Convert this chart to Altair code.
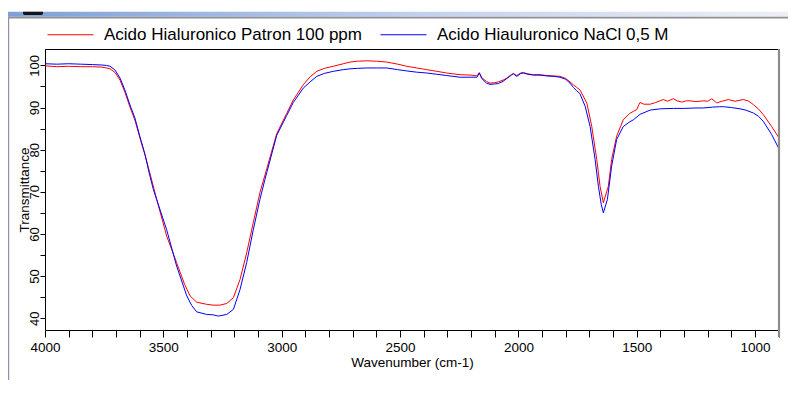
import altair as alt
import pandas as pd

series_names = ["Acido Hialuronico Patron 100 ppm", "Acido Hiauluronico NaCl 0,5 M"]
series_colors = ["#ff0000", "#0000ff"]

red_wn = [4000, 3950, 3900, 3850, 3800, 3760, 3740, 3725, 3704, 3683, 3662, 3641, 3620, 3600,
          3577, 3555, 3528, 3486, 3444, 3410, 3387, 3359, 3317, 3290, 3261, 3232, 3204, 3176,
          3148, 3120, 3092, 3063, 3021, 2979, 2951, 2909, 2880, 2852, 2820, 2782, 2740, 2711,
          2680, 2641, 2600, 2556, 2510, 2472, 2430, 2387, 2345, 2303, 2247, 2200, 2175, 2165,
          2155, 2135, 2120, 2100, 2085, 2065, 2049, 2030, 2021, 2007, 1990, 1979, 1960, 1937,
          1909, 1880, 1850, 1824, 1800, 1782, 1768, 1754, 1740, 1711, 1690, 1669, 1655, 1641,
          1620, 1606, 1585, 1557, 1530, 1514, 1500, 1490, 1486, 1470, 1443, 1420, 1388, 1370,
          1345, 1330, 1310, 1290, 1275, 1250, 1219, 1200, 1183, 1162, 1140, 1113, 1085, 1050,
          1030, 1007, 985, 965, 930, 899]
red_t = [99.9, 99.7, 99.8, 99.7, 99.7, 99.6, 99.4, 99.2, 98.3, 96.5, 93.6, 90.1, 87.0, 83.0,
         78.6, 74.0, 68.2, 59.5, 53.2, 48.0, 45.3, 43.8, 43.3, 43.1, 43.1, 43.5, 44.9, 49.2,
         55.5, 62.7, 69.8, 75.5, 83.8, 88.6, 91.8, 95.4, 97.3, 98.6, 99.3, 99.8, 100.4, 100.8,
         101.0, 101.1, 101.0, 100.8, 100.3, 99.8, 99.4, 99.0, 98.6, 98.2, 97.8, 97.7, 97.5, 98.3,
         97.1, 96.2, 95.8, 95.9, 96.1, 96.5, 97.0, 97.8, 98.1, 97.6, 98.2, 98.3, 98.0, 97.8,
         97.8, 97.6, 97.5, 97.4, 96.9, 96.1, 95.4, 94.8, 94.2, 91.1, 85.5, 77.7, 71.3, 67.4,
         71.3, 77.7, 83.2, 87.1, 88.6, 89.1, 89.5, 90.8, 91.2, 90.8, 90.8, 91.2, 91.9, 91.5,
         92.1, 91.6, 91.3, 91.6, 91.6, 91.4, 91.6, 91.5, 92.1, 91.1, 91.5, 91.9, 91.5, 91.9,
         91.6, 90.7, 89.6, 88.3, 85.5, 82.8]

blue_wn = [4000, 3950, 3900, 3850, 3800, 3760, 3740, 3725, 3704, 3683, 3662, 3641, 3620, 3600,
           3577, 3560, 3542, 3486, 3444, 3401, 3380, 3359, 3317, 3290, 3268, 3232, 3204, 3176,
           3148, 3120, 3092, 3071, 3063, 3021, 2979, 2951, 2909, 2880, 2852, 2820, 2782, 2740,
           2711, 2680, 2641, 2600, 2556, 2510, 2472, 2430, 2387, 2345, 2303, 2247, 2200, 2175,
           2165, 2155, 2135, 2120, 2100, 2085, 2065, 2049, 2030, 2021, 2007, 1990, 1979, 1960,
           1937, 1909, 1880, 1850, 1824, 1800, 1782, 1768, 1754, 1740, 1718, 1697, 1676, 1662,
           1650, 1641, 1624, 1606, 1585, 1557, 1530, 1514, 1486, 1443, 1400, 1345, 1300, 1250,
           1219, 1180, 1150, 1134, 1100, 1064, 1040, 1007, 985, 965, 930, 899]
blue_t = [100.4, 100.3, 100.4, 100.3, 100.2, 100.1, 100.0, 99.8, 98.9, 97.0, 94.1, 90.6, 87.5, 83.3,
          78.8, 74.5, 70.5, 61.0, 52.4, 45.3, 43.0, 41.5, 40.9, 40.8, 40.5, 40.9, 42.1, 46.8,
          53.2, 61.0, 68.2, 72.9, 74.6, 83.4, 88.1, 91.2, 94.6, 96.1, 97.4, 98.1, 98.6, 99.0,
          99.2, 99.3, 99.4, 99.4, 99.4, 99.0, 98.7, 98.4, 98.2, 97.9, 97.6, 97.2, 97.2, 97.2,
          98.2, 96.9, 95.8, 95.5, 95.6, 95.7, 96.2, 96.9, 97.7, 98.0, 97.4, 98.1, 98.2, 97.9,
          97.7, 97.7, 97.5, 97.4, 97.2, 96.7, 95.8, 94.8, 94.0, 93.3, 90.3, 85.5, 77.7, 71.3,
          67.0, 65.0, 68.2, 76.1, 82.4, 85.5, 86.6, 87.1, 88.4, 89.4, 89.7, 89.8, 89.8, 89.9,
          89.9, 90.1, 90.2, 90.2, 90.0, 89.7, 89.4, 88.7, 87.9, 86.7, 83.6, 80.2]

x_tick_values = [4000, 3900, 3800, 3700, 3600, 3500, 3400, 3300, 3200, 3100, 3000, 2900,
                 2800, 2700, 2600, 2500, 2400, 2300, 2200, 2100, 2000, 1900, 1800, 1700,
                 1600, 1500, 1400, 1300, 1200, 1100, 1000, 900]
y_tick_values = [40, 45, 50, 55, 60, 65, 70, 75, 80, 85, 90, 95, 100]

df = pd.concat([
    pd.DataFrame({"wn": red_wn, "t": red_t, "series": series_names[0]}),
    pd.DataFrame({"wn": blue_wn, "t": blue_t, "series": series_names[1]}),
], ignore_index=True)

FONT = "Liberation Sans"
x_scale = alt.Scale(domain=[4000, 899], nice=False, zero=False)
y_scale = alt.Scale(domain=[37.2, 103.9], nice=False, zero=False)

lines = alt.Chart(df).mark_line(strokeWidth=1, clip=True).encode(
    x=alt.X("wn:Q", scale=x_scale, axis=alt.Axis(
        title="Wavenumber (cm-1)", values=x_tick_values, format="d",
        labelExpr="datum.value % 500 == 0 ? datum.label : ''",
        labelFlush=False, tickSize=7, labelPadding=3, titlePadding=2,
        labelFontSize=13.5, titleFontSize=13.5, labelOverlap=False)),
    y=alt.Y("t:Q", scale=y_scale, axis=alt.Axis(
        title="Transmittance", values=y_tick_values,
        labelExpr="datum.value % 10 == 0 ? datum.label : ''",
        labelAngle=270, labelAlign="center", labelBaseline="alphabetic",
        tickSize=5, labelPadding=2, labelFontSize=13, titleFontSize=13.5,
        titleAngle=270, titleAlign="center", titleBaseline="alphabetic",
        titleX=-16.7, titleY=140.5, labelOverlap=False)),
    color=alt.Color("series:N", scale=alt.Scale(domain=series_names, range=series_colors),
                    legend=alt.Legend(title=None, orient="none", legendX=2, legendY=-38,
                                      direction="horizontal", symbolType="stroke",
                                      symbolSize=2116, symbolStrokeWidth=1,
                                      labelFontSize=17, labelFont=FONT, labelOffset=10,
                                      columnPadding=16, labelLimit=500, padding=0,
                                      labelColor="#000000")),
)

dummy = pd.DataFrame({"k": [0]})
bar = alt.Chart(dummy).mark_rect(fill=alt.Gradient(
    gradient="linear", x1=0, x2=1, y1=0, y2=0,
    stops=[alt.GradientStop(color="#7f9fd8", offset=0),
           alt.GradientStop(color="#c5d3ee", offset=0.55),
           alt.GradientStop(color="#eef0f4", offset=1)])).encode(
    x=alt.value(-37), x2=alt.value(751), y=alt.value(-37.3), y2=alt.value(-32.3))
bar_line = alt.Chart(dummy).mark_rect(color="#8f9094").encode(
    x=alt.value(-37), x2=alt.value(751), y=alt.value(-32.3), y2=alt.value(-30.6))
left_line = alt.Chart(dummy).mark_rect(color="#9090a8").encode(
    x=alt.value(-37), x2=alt.value(-35.8), y=alt.value(-32), y2=alt.value(345))
blob = alt.Chart(dummy).mark_rect(color="#151515", cornerRadiusBottomLeft=9,
                                  cornerRadiusBottomRight=9).encode(
    x=alt.value(-22), x2=alt.value(-2), y=alt.value(-37.3), y2=alt.value(-34))
right_edge = alt.Chart(dummy).mark_rule(color="#8c8c8c", strokeWidth=2.2).encode(
    x=alt.value(734), y=alt.value(0), y2=alt.value(288))

chart = alt.layer(bar, bar_line, left_line, blob, lines, right_edge).properties(
    width=734, height=281, autosize="none",
    padding={"left": 37, "top": 41, "right": 9, "bottom": 50},
    background="white",
).configure_view(stroke="#000000", strokeWidth=1).configure_axis(
    labelFont=FONT, titleFont=FONT, labelColor="#000000", titleColor="#000000",
    titleFontWeight="normal", domainColor="#000000", tickColor="#000000", grid=False,
    domainWidth=1, tickWidth=1,
)

chart.save("out.html", embed_options={"renderer": "svg", "actions": False})
